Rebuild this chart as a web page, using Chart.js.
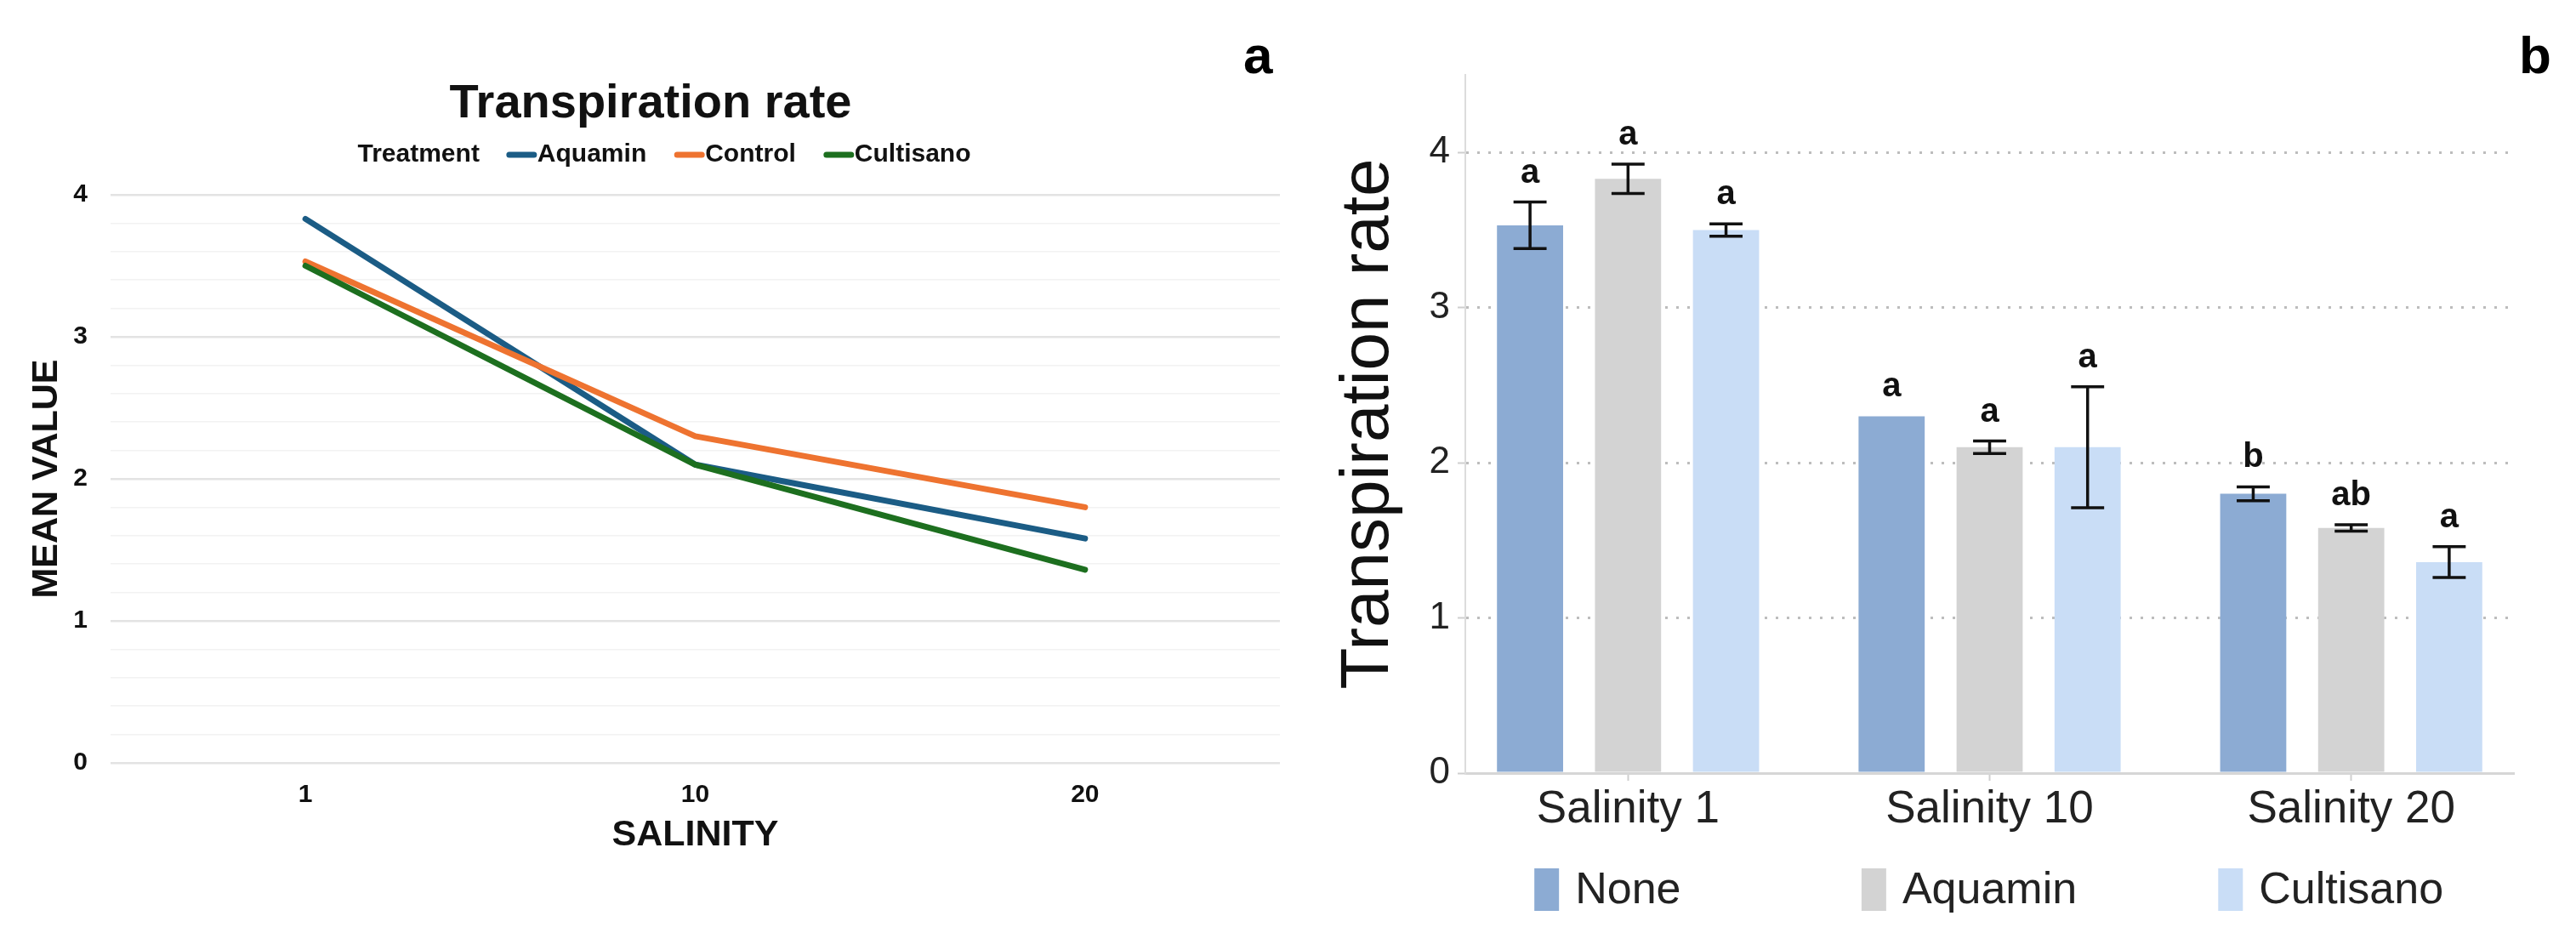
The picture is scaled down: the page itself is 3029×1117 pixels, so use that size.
<!DOCTYPE html>
<html lang="en">
<head>
<meta charset="UTF-8">
<title>Transpiration rate</title>
<script src="https://cdnjs.cloudflare.com/ajax/libs/Chart.js/4.4.1/chart.umd.min.js"></script>
<style>
  * { box-sizing: border-box; margin: 0; padding: 0; }
  html, body { width: 3029px; height: 1117px; overflow: hidden; background: #fff; }
  body { position: relative; font-family: 'Liberation Sans', Arial, sans-serif; }
  #lineChart { position: absolute; left: 0; top: 0; }
  #barChart { position: absolute; left: 1540px; top: 0; }
  .panel { position: absolute; font: bold 62px 'Liberation Sans', Arial, sans-serif; line-height: 62px; color: #000; }
</style>
</head>
<body>
<canvas id="lineChart" width="1530" height="1117"></canvas>
<canvas id="barChart" width="1489" height="1117"></canvas>
<div class="panel" style="left:1462px; top:34px;">a</div>
<div class="panel" style="left:2962px; top:34px;">b</div>

<script>
  // ---- panel a : mean value per salinity ----
  const salinity = ['1', '10', '20'];
  const lineNames = ['Aquamin', 'Control', 'Cultisano'];
  const aquaminMean = [3.83, 2.10, 1.58];
  const controlMean = [3.53, 2.30, 1.80];
  const cultisanoMean = [3.50, 2.10, 1.36];
  const lineColors = ['#1b5c85', '#ee7330', '#1d6f1f'];

  // ---- panel b : bars with error bars ----
  const groups = ['Salinity 1', 'Salinity 10', 'Salinity 20'];
  const treatments = ['None', 'Aquamin', 'Cultisano'];
  const noneBar = [3.53, 2.30, 1.80];
  const aquaminBar = [3.83, 2.10, 1.58];
  const cultisanoBar = [3.50, 2.10, 1.36];
  const noneErr = [0.15, 0, 0.045];
  const aquaminErr = [0.095, 0.04, 0.02];
  const cultisanoErr = [0.04, 0.39, 0.10];
  const noneLetters = ['a', 'a', 'b'];
  const aquaminLetters = ['a', 'a', 'ab'];
  const cultisanoLetters = ['a', 'a', 'a'];
  const barColors = ['#8cabd3', '#d3d3d3', '#c9ddf6'];
  const yTicksB = [0, 1, 2, 3, 4];

  const FONT = "'Liberation Sans', Arial, sans-serif";
  Chart.defaults.font.family = FONT;
  Chart.defaults.color = '#111';

  const isWhole = v => Math.abs(v - Math.round(v)) < 1e-6;

  // titre + légende en ligne (Treatment — Aquamin — Control — Cultisano)
  const lineHeader = {
    id: 'lineHeader',
    afterDraw(chart) {
      const { ctx, width } = chart;
      ctx.save();
      ctx.fillStyle = '#111';
      ctx.textBaseline = 'middle';
      ctx.textAlign = 'center';
      ctx.font = `bold 56px ${FONT}`;
      ctx.fillText('Transpiration rate', width / 2, 123);

      ctx.font = `bold 30px ${FONT}`;
      ctx.textAlign = 'left';
      const legendTitle = 'Treatment';
      const items = chart.data.datasets.map(ds => ({ text: ds.label, color: ds.borderColor }));
      let total = ctx.measureText(legendTitle).width + 31;
      items.forEach((it, i) => {
        total += 37 + ctx.measureText(it.text).width + (i < items.length - 1 ? 32 : 0);
      });
      let x = width / 2 + 16 - total / 2;
      const y = 182;
      ctx.fillText(legendTitle, x, y);
      x += ctx.measureText(legendTitle).width + 31;
      items.forEach(it => {
        ctx.strokeStyle = it.color;
        ctx.lineWidth = 7;
        ctx.lineCap = 'round';
        ctx.beginPath();
        ctx.moveTo(x + 4, y);
        ctx.lineTo(x + 33, y);
        ctx.stroke();
        x += 37;
        ctx.fillText(it.text, x, y);
        x += ctx.measureText(it.text).width + 32;
      });
      ctx.restore();
    }
  };

  new Chart(document.getElementById('lineChart'), {
    type: 'line',
    data: {
      labels: salinity,
      datasets: [
        { label: lineNames[0], data: aquaminMean, borderColor: lineColors[0], order: 2 },
        { label: lineNames[1], data: controlMean, borderColor: lineColors[1], order: 1 },
        { label: lineNames[2], data: cultisanoMean, borderColor: lineColors[2], order: 0 }
      ]
    },
    options: {
      responsive: false,
      devicePixelRatio: 1,
      animation: false,
      layout: { padding: { top: 229, right: 25, left: 0, bottom: 0 } },
      elements: {
        line: { borderWidth: 7, borderCapStyle: 'round', borderJoinStyle: 'round', tension: 0 },
        point: { radius: 0 }
      },
      plugins: { legend: { display: false }, tooltip: { enabled: false } },
      scales: {
        x: {
          offset: true,
          grid: { display: false, drawTicks: false },
          border: { display: false },
          ticks: { font: { size: 30, weight: 'bold' }, padding: 20, color: '#111', maxRotation: 0 },
          title: {
            display: true, text: 'SALINITY', color: '#111',
            font: { size: 43, weight: 'bold' }, padding: { top: 0, bottom: 109 }
          },
          afterFit: s => { s.height = 220; }
        },
        y: {
          min: 0,
          max: 4,
          grid: {
            drawTicks: false,
            color: c => isWhole(c.tick.value) ? '#e3e3e3' : '#f2f2f2',
            lineWidth: c => isWhole(c.tick.value) ? 2.5 : 1.5
          },
          border: { display: false },
          ticks: {
            stepSize: 0.2,
            autoSkip: false,
            padding: 27,
            color: '#111',
            font: { size: 30, weight: 'bold' },
            callback: v => isWhole(v) ? Math.round(v) : ''
          },
          title: {
            display: true, text: 'MEAN VALUE', color: '#111',
            font: { size: 43, weight: 'bold' }, padding: { top: 29, bottom: 0 }
          },
          afterFit: s => { s.width = 130; }
        }
      }
    },
    plugins: [lineHeader]
  });

  // barres d'erreur + lettres de significativité
  const errorBars = {
    id: 'errorBars',
    afterDatasetsDraw(chart) {
      const { ctx, scales: { y } } = chart;
      ctx.save();
      chart.data.datasets.forEach((ds, k) => {
        chart.getDatasetMeta(k).data.forEach((bar, i) => {
          const v = ds.data[i].y;
          const e = ds.errors[i];
          const half = bar.width / 4;
          if (e) {
            const top = y.getPixelForValue(v + e);
            const bot = y.getPixelForValue(v - e);
            ctx.strokeStyle = '#111';
            ctx.lineWidth = 3.5;
            ctx.beginPath();
            ctx.moveTo(bar.x, top); ctx.lineTo(bar.x, bot);
            ctx.moveTo(bar.x - half, top); ctx.lineTo(bar.x + half, top);
            ctx.moveTo(bar.x - half, bot); ctx.lineTo(bar.x + half, bot);
            ctx.stroke();
          }
          ctx.fillStyle = '#111';
          ctx.font = `bold 40px ${FONT}`;
          ctx.textAlign = 'center';
          ctx.textBaseline = 'alphabetic';
          ctx.fillText(ds.letters[i], bar.x, y.getPixelForValue(v + e) - 23);
        });
      });
      ctx.restore();
    }
  };

  // légende du bas (carrés hauts + texte)
  const bottomLegend = {
    id: 'bottomLegend',
    afterDraw(chart) {
      const { ctx, scales: { x }, chartArea } = chart;
      const cy = chartArea.bottom + 137;
      ctx.save();
      ctx.font = `52px ${FONT}`;
      ctx.textBaseline = 'middle';
      ctx.textAlign = 'left';
      chart.data.datasets.forEach((ds, k) => {
        const tw = ctx.measureText(ds.label).width;
        const w = 29 + 19 + tw;
        const left = x.getPixelForValue(k) - 24 - w / 2;
        ctx.fillStyle = ds.backgroundColor;
        ctx.fillRect(left, cy - 25, 29, 50);
        ctx.fillStyle = '#222';
        ctx.fillText(ds.label, left + 48, cy + 2);
      });
      ctx.restore();
    }
  };

  const barMeans = [noneBar, aquaminBar, cultisanoBar];
  const barErrors = [noneErr, aquaminErr, cultisanoErr];
  const barLetters = [noneLetters, aquaminLetters, cultisanoLetters];

  new Chart(document.getElementById('barChart'), {
    type: 'bar',
    data: {
      datasets: treatments.map((name, k) => ({
        label: name,
        data: barMeans[k].map((v, i) => ({ x: i, y: v })),
        backgroundColor: barColors[k],
        errors: barErrors[k],
        letters: barLetters[k],
        barPercentage: 0.675,
        categoryPercentage: 0.813
      }))
    },
    options: {
      responsive: false,
      devicePixelRatio: 1,
      animation: false,
      layout: { padding: { top: 88, right: 73, left: 0, bottom: 0 } },
      plugins: { legend: { display: false }, tooltip: { enabled: false } },
      scales: {
        x: {
          type: 'linear',
          min: -0.45,
          max: 2.45,
          offset: false,
          afterBuildTicks: s => { s.ticks = groups.map((g, i) => ({ value: i })); },
          grid: { offset: false, drawOnChartArea: false, tickLength: 9, tickColor: '#cfcfcf', tickWidth: 2 },
          border: { color: '#d6d6d6', width: 3 },
          ticks: {
            autoSkip: false, maxRotation: 0, padding: 3, color: '#222',
            font: { size: 53 },
            callback: v => groups[v]
          },
          afterFit: s => { s.height = 208; }
        },
        y: {
          min: 0,
          max: 4.5,
          afterBuildTicks: s => { s.ticks = yTicksB.map(v => ({ value: v })); },
          grid: {
            color: c => c.tick.value === 0 ? 'rgba(0,0,0,0)' : '#bdbdbd',
            lineWidth: 3,
            tickLength: 9,
            tickColor: '#cfcfcf',
            tickWidth: 2
          },
          border: { color: '#dcdcdc', width: 2, dash: [3, 10] },
          ticks: { padding: 9, color: '#222', font: { size: 44 } },
          title: {
            display: true, text: 'Transpiration rate', color: '#111',
            font: { size: 80 }, padding: { top: 22, bottom: 0 }
          },
          afterFit: s => { s.width = 183; }
        }
      }
    },
    plugins: [errorBars, bottomLegend]
  });
</script>
</body>
</html>
